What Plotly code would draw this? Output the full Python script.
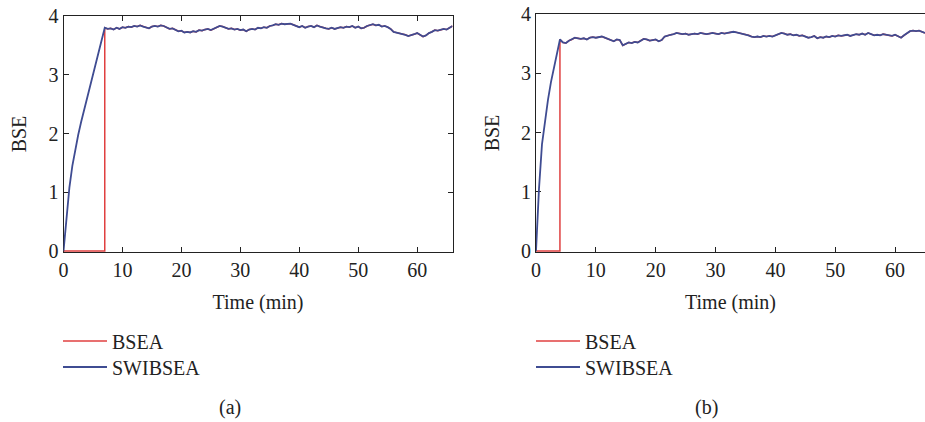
import plotly.graph_objects as go

# ---------------- data ----------------
# (a) rising phase and plateau (Time in minutes, BSE values)
time_a_rise = [0, 0.5, 1, 1.5, 2, 2.5, 3, 3.5, 4, 4.5, 5, 5.5, 6, 6.5]
bse_a_rise = [0, 0.62, 1.08, 1.45, 1.74, 1.98, 2.2, 2.4, 2.58, 2.78, 2.97, 3.2, 3.42, 3.62]

time_a_plateau = [7 + 0.5 * i for i in range(119)]  # 7 .. 66 min
bse_a_plateau = [
    3.80, 3.78, 3.79, 3.77, 3.80, 3.78, 3.81, 3.80, 3.82, 3.81,
    3.83, 3.82, 3.84, 3.82, 3.80, 3.79, 3.82, 3.83, 3.82, 3.84,
    3.83, 3.80, 3.78, 3.79, 3.76, 3.74, 3.75, 3.72, 3.73, 3.72,
    3.74, 3.73, 3.76, 3.75, 3.77, 3.78, 3.76, 3.78, 3.81, 3.83,
    3.82, 3.80, 3.78, 3.79, 3.77, 3.78, 3.76, 3.77, 3.74, 3.77,
    3.78, 3.77, 3.80, 3.79, 3.81, 3.80, 3.83, 3.84, 3.86, 3.85,
    3.87, 3.86, 3.86, 3.87, 3.85, 3.83, 3.81, 3.83, 3.80, 3.82,
    3.83, 3.81, 3.84, 3.82, 3.80, 3.79, 3.78, 3.80, 3.78, 3.79,
    3.81, 3.80, 3.82, 3.81, 3.83, 3.80, 3.82, 3.79, 3.80, 3.83,
    3.85, 3.86, 3.84, 3.85, 3.82, 3.83, 3.81, 3.78, 3.73, 3.72,
    3.71, 3.70, 3.68, 3.66, 3.67, 3.69, 3.71, 3.68, 3.65, 3.67,
    3.71, 3.73, 3.76, 3.75, 3.77, 3.78, 3.77, 3.80, 3.83,
]
bsea_a_switch = 7  # BSEA stays at 0 until this time

# (b)
time_b_rise = [0, 0.5, 1, 1.5, 2, 2.5, 3, 3.5]
bse_b_rise = [0, 1.05, 1.8, 2.2, 2.55, 2.85, 3.1, 3.35]

time_b_plateau = [4 + 0.5 * i for i in range(123)]  # 4 .. 65 min
bse_b_plateau = [
    3.57, 3.52, 3.51, 3.55, 3.57, 3.60, 3.59, 3.58, 3.59, 3.57,
    3.60, 3.61, 3.60, 3.61, 3.62, 3.60, 3.58, 3.56, 3.54, 3.57,
    3.56, 3.47, 3.50, 3.52, 3.51, 3.53, 3.52, 3.55, 3.58, 3.57,
    3.55, 3.56, 3.57, 3.54, 3.56, 3.62, 3.64, 3.65, 3.66, 3.68,
    3.67, 3.66, 3.67, 3.65, 3.66, 3.67, 3.66, 3.68, 3.67, 3.66,
    3.67, 3.68, 3.67, 3.66, 3.68, 3.67, 3.68, 3.69, 3.70, 3.69,
    3.68, 3.67, 3.66, 3.64, 3.62, 3.61, 3.62, 3.61, 3.63, 3.62,
    3.63, 3.62, 3.64, 3.66, 3.68, 3.67, 3.65, 3.66, 3.64, 3.65,
    3.63, 3.64, 3.62, 3.60, 3.61, 3.63, 3.59, 3.61, 3.60, 3.62,
    3.61, 3.63, 3.62, 3.64, 3.63, 3.64, 3.65, 3.63, 3.64, 3.66,
    3.65, 3.67, 3.65, 3.68, 3.66, 3.64, 3.65, 3.64, 3.66, 3.65,
    3.64, 3.63, 3.65, 3.62, 3.60, 3.64, 3.68, 3.71, 3.72, 3.71,
    3.72, 3.70, 3.68,
]
bsea_b_switch = 4

x_ticks = [0, 10, 20, 30, 40, 50, 60]
y_ticks = [0, 1, 2, 3, 4]
series_names = ["BSEA", "SWIBSEA"]
captions = ["(a)", "(b)"]

# ---------------- derived traces ----------------
swib_a_x = time_a_rise + time_a_plateau
swib_a_y = bse_a_rise + bse_a_plateau
bsea_a_x = [0, bsea_a_switch] + time_a_plateau
bsea_a_y = [0, 0] + bse_a_plateau

swib_b_x = time_b_rise + time_b_plateau
swib_b_y = bse_b_rise + bse_b_plateau
bsea_b_x = [0, bsea_b_switch] + time_b_plateau
bsea_b_y = [0, 0] + bse_b_plateau

SERIF = "Liberation Serif"
FS = 20
RED = "#e04040"
BLUE = "#3f4c92"
TXT = "#222"
W, H = 925, 422

fig = go.Figure()
fig.add_trace(go.Scatter(x=bsea_a_x, y=bsea_a_y, mode="lines", name=series_names[0],
                         line=dict(color=RED, width=1.5), xaxis="x", yaxis="y",
                         legend="legend"))
fig.add_trace(go.Scatter(x=swib_a_x, y=swib_a_y, mode="lines", name=series_names[1],
                         line=dict(color=BLUE, width=1.8), xaxis="x", yaxis="y",
                         legend="legend2"))
fig.add_trace(go.Scatter(x=bsea_b_x, y=bsea_b_y, mode="lines", name=series_names[0],
                         line=dict(color=RED, width=1.5), xaxis="x2", yaxis="y2",
                         legend="legend3"))
fig.add_trace(go.Scatter(x=swib_b_x, y=swib_b_y, mode="lines", name=series_names[1],
                         line=dict(color=BLUE, width=1.8), xaxis="x2", yaxis="y2",
                         legend="legend4"))

def px_x(p):
    return p / W

def px_y(p):
    return 1 - p / H

axis_common = dict(
    showgrid=False, zeroline=False, showline=True, linecolor=TXT, linewidth=1,
    ticks="inside", ticklen=5, tickwidth=1, tickcolor=TXT,
    tickfont=dict(family=SERIF, size=FS, color=TXT),
    layer="below traces", automargin=False,
)
title_font = dict(family=SERIF, size=FS, color=TXT)
legend_common = dict(xanchor="left", yanchor="middle", bgcolor="rgba(0,0,0,0)",
                     font=dict(family=SERIF, size=FS, color=TXT), itemwidth=44)

LEG_A_X, LEG_B_X = 58, 531
LEG_ROW1, LEG_ROW2 = 341, 367

fig.update_layout(
    width=W, height=H,
    margin=dict(l=0, r=0, t=0, b=0),
    paper_bgcolor="white", plot_bgcolor="white",
    font=dict(family=SERIF, size=FS, color=TXT),
    xaxis=dict(domain=[px_x(63.5), px_x(452.5)], range=[0, 66], tickvals=x_ticks,
               mirror="ticks", anchor="y",
               title=dict(text="Time (min)", font=title_font, standoff=14),
               **axis_common),
    yaxis=dict(domain=[px_y(252), px_y(16)], range=[-0.015, 4], tickvals=y_ticks,
               mirror="ticks", anchor="x",
               title=dict(text="BSE", font=title_font, standoff=16),
               **axis_common),
    xaxis2=dict(domain=[px_x(536), 1.0], range=[0, 65], tickvals=x_ticks,
                mirror=True, anchor="y2",
                title=dict(text="Time (min)", font=title_font, standoff=14),
                **axis_common),
    yaxis2=dict(domain=[px_y(252), px_y(14)], range=[-0.015, 4], tickvals=y_ticks,
                mirror=False, anchor="x2",
                title=dict(text="BSE", font=title_font, standoff=16),
                **axis_common),
    legend=dict(x=px_x(LEG_A_X), y=px_y(LEG_ROW1), **legend_common),
    legend2=dict(x=px_x(LEG_A_X), y=px_y(LEG_ROW2), **legend_common),
    legend3=dict(x=px_x(LEG_B_X), y=px_y(LEG_ROW1), **legend_common),
    legend4=dict(x=px_x(LEG_B_X), y=px_y(LEG_ROW2), **legend_common),
    showlegend=True,
    annotations=[
        dict(text=captions[0], x=px_x(230), y=px_y(407), xref="paper", yref="paper",
             xanchor="center", yanchor="middle",
             showarrow=False, font=dict(family=SERIF, size=FS, color=TXT)),
        dict(text=captions[1], x=px_x(706), y=px_y(407), xref="paper", yref="paper",
             xanchor="center", yanchor="middle",
             showarrow=False, font=dict(family=SERIF, size=FS, color=TXT)),
    ],
)

fig.write_html("out.html", config={"displayModeBar": False},
               post_script="document.body.style.margin='0';document.body.style.overflow='hidden';")
